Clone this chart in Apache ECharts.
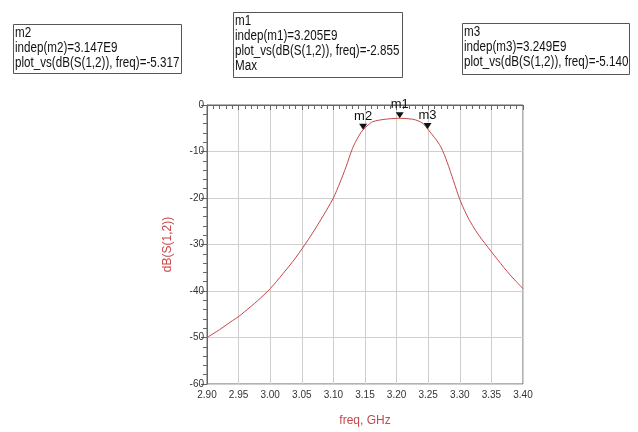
<!DOCTYPE html>
<html>
<head>
<meta charset="utf-8">
<script src="https://cdn.jsdelivr.net/npm/echarts@6/dist/echarts.min.js"></script>
<style>
  html, body { margin: 0; padding: 0; background: #fff; }
  #chart { width: 638px; height: 432px; }
</style>
</head>
<body>
<div id="chart"></div>
<script>
// dB(S(1,2)) vs freq (GHz)
const freqs = [2.90, 2.92, 2.94, 2.95, 2.96, 2.98, 3.00, 3.02, 3.04, 3.06, 3.07, 3.08, 3.09, 3.10, 3.11, 3.12, 3.13, 3.14,
  3.147, 3.155, 3.162, 3.18, 3.205, 3.225, 3.234, 3.242, 3.249, 3.26, 3.27, 3.28, 3.29, 3.30,
  3.31, 3.32, 3.33, 3.34, 3.36, 3.38, 3.40];
const s12 = [-50.0, -48.3, -46.4, -45.5, -44.4, -42.1, -39.5, -36.3, -32.9, -29.0, -26.9, -24.7, -22.4, -20.0, -16.8, -13.3, -9.4, -6.7,
  -5.317, -4.3, -3.6, -3.1, -2.855, -3.05, -3.4, -4.0, -5.140, -7.0, -9.0, -12.3, -16.3, -20.3,
  -23.4, -25.9, -28.0, -29.8, -33.3, -36.6, -39.5];

const markerNames = ['m1', 'm2', 'm3'];
const markerFreqs = [3.205, 3.147, 3.249];
const markerValues = [-2.855, -5.317, -5.140];
const markerExtra = ['Max', '', ''];

const FONT = "'Liberation Sans', Arial, sans-serif";
const RED = '#c8474a';

const myChart = echarts.init(document.getElementById('chart'));

// marker readout boxes [left, top, width, height] for m1, m2, m3
const boxes = [[233, 12, 169, 65], [13, 24, 168, 49], [462, 23, 167, 51]];
const boxGraphics = markerNames.map((n, i) => {
  let lines = [n, 'indep(' + n + ')=' + markerFreqs[i].toFixed(3) + 'E9',
    'plot_vs(dB(S(1,2)), freq)=' + markerValues[i].toFixed(3)];
  if (markerExtra[i]) lines.push(markerExtra[i]);
  const b = boxes[i];
  return {
    type: 'group',
    left: b[0],
    top: b[1],
    children: [
      { type: 'rect', shape: { x: 0, y: 0, width: b[2], height: b[3] },
        style: { fill: '#fff', stroke: '#555', lineWidth: 1 } },
      { type: 'text', x: 1.5, y: 1.5, scaleX: 0.83,
        style: { text: lines.join('\n'), fontFamily: FONT, fontSize: 14, lineHeight: 15, fill: '#111' } }
    ]
  };
});

const option = {
  backgroundColor: '#fff',
  animation: false,
  grid: {
    left: 207, right: 115, top: 105, bottom: 45,
    show: true, borderColor: '#666', borderWidth: 1, backgroundColor: 'transparent'
  },
  xAxis: {
    type: 'value',
    min: 2.9,
    max: 3.4,
    interval: 0.05,
    name: 'freq, GHz',
    nameLocation: 'middle',
    nameGap: 31,
    nameTextStyle: { color: RED, fontFamily: FONT, fontSize: 12 },
    axisLine: { show: true, lineStyle: { color: '#666' } },
    axisTick: { show: true, length: 5, lineStyle: { color: '#666' } },
    minorTick: { show: true, splitNumber: 5, length: 4, lineStyle: { color: '#666' } },
    axisLabel: {
      color: '#333', fontFamily: FONT, fontSize: 10, margin: 6,
      formatter: v => v.toFixed(2)
    },
    splitLine: { show: true, lineStyle: { color: '#cfcfcf' } }
  },
  yAxis: {
    type: 'value',
    min: -60,
    max: 0,
    interval: 10,
    name: 'dB(S(1,2))',
    nameLocation: 'middle',
    nameGap: 33,
    nameTextStyle: { color: RED, fontFamily: FONT, fontSize: 12 },
    axisLine: { show: true, lineStyle: { color: '#666' } },
    axisTick: { show: true, length: 6, lineStyle: { color: '#666' } },
    minorTick: { show: true, splitNumber: 5, length: 4, lineStyle: { color: '#666' } },
    axisLabel: { color: '#333', fontFamily: FONT, fontSize: 10, margin: 3 },
    splitLine: { show: true, lineStyle: { color: '#cfcfcf' } }
  },
  series: [
    {
      type: 'line',
      data: freqs.map((f, i) => [f, s12[i]]),
      smooth: 0.3,
      showSymbol: false,
      lineStyle: { color: RED, width: 1 },
      markPoint: {
        symbol: 'triangle',
        symbolSize: [8, 6],
        symbolRotate: 180,
        symbolOffset: [0, -3],
        itemStyle: { color: '#111' },
        label: {
          show: true, position: 'top', distance: 1,
          color: '#111', fontFamily: FONT, fontSize: 13,
          formatter: '{b}'
        },
        data: markerNames.map((n, i) => ({ name: n, coord: [markerFreqs[i], markerValues[i]] }))
      }
    }
  ],
  graphic: boxGraphics
};

myChart.setOption(option);
</script>
</body>
</html>
